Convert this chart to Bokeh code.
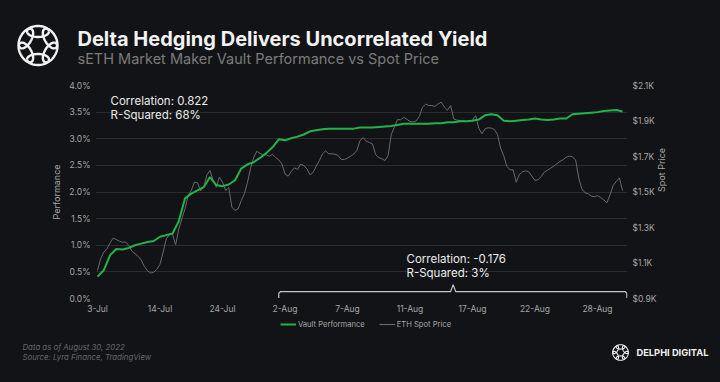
import math
import numpy as np
from bokeh.plotting import figure
from bokeh.layouts import column
from bokeh.core.properties import value
from bokeh.models import (Range1d, LinearAxis, FixedTicker, PrintfTickFormatter,
                          Label)
from bokeh.embed import file_html
from bokeh.resources import INLINE

# ---------------- data ----------------
x_tick_labels = ["3-Jul", "14-Jul", "24-Jul", "2-Aug", "7-Aug",
                 "11-Aug", "17-Aug", "22-Aug", "28-Aug"]
vault_points_per_label = 10
eth_points_per_label = 20

vault_perf_pct = [0.41, 0.53, 0.81, 0.93, 0.92, 0.95, 1.00, 1.03, 1.06, 1.08,
                  1.16, 1.19, 1.22, 1.45, 1.88, 1.97, 2.03, 2.09, 2.28, 2.13,
                  2.11, 2.14, 2.22, 2.44, 2.52, 2.56, 2.64, 2.73, 2.84, 2.99,
                  2.97, 3.01, 3.04, 3.08, 3.14, 3.16, 3.18, 3.19, 3.19, 3.19,
                  3.19, 3.19, 3.21, 3.21, 3.21, 3.22, 3.23, 3.24, 3.26, 3.28,
                  3.28, 3.28, 3.28, 3.28, 3.29, 3.29, 3.31, 3.31, 3.33, 3.33,
                  3.34, 3.36, 3.44, 3.46, 3.44, 3.34, 3.33, 3.34, 3.35, 3.36,
                  3.38, 3.36, 3.35, 3.36, 3.38, 3.38, 3.46, 3.47, 3.48, 3.49,
                  3.50, 3.52, 3.53, 3.54, 3.51]

eth_spot_price = [1058, 1123, 1161, 1180, 1212, 1240, 1232, 1223, 1217, 1219,
                  1198, 1167, 1153, 1138, 1116, 1080, 1056, 1043, 1048, 1065,
                  1093, 1161, 1236, 1259, 1262, 1202, 1291, 1351, 1405, 1480,
                  1508, 1555, 1552, 1507, 1527, 1597, 1621, 1565, 1527, 1584,
                  1555, 1508, 1525, 1415, 1396, 1405, 1452, 1490, 1555, 1634,
                  1696, 1730, 1717, 1709, 1709, 1702, 1713, 1694, 1681, 1659,
                  1602, 1589, 1615, 1636, 1627, 1657, 1649, 1630, 1597, 1610,
                  1646, 1677, 1715, 1732, 1715, 1715, 1713, 1706, 1683, 1683,
                  1691, 1702, 1713, 1734, 1790, 1807, 1786, 1779, 1771, 1711,
                  1694, 1687, 1677, 1706, 1824, 1865, 1908, 1907, 1920, 1910,
                  1897, 1895, 1901, 1927, 1978, 1995, 1987, 1987, 1982, 1997,
                  2006, 1978, 1961, 1987, 1912, 1905, 1903, 1903, 1897, 1897,
                  1907, 1931, 1860, 1828, 1856, 1862, 1860, 1852, 1824, 1747,
                  1704, 1644, 1625, 1625, 1555, 1599, 1614, 1619, 1614, 1589,
                  1565, 1570, 1587, 1612, 1623, 1634, 1646, 1659, 1672, 1683,
                  1696, 1702, 1698, 1681, 1578, 1518, 1495, 1490, 1477, 1473,
                  1480, 1469, 1456, 1439, 1484, 1537, 1559, 1580, 1508]

perf_ticks = [0.0, 0.5, 1.0, 1.5, 2.0, 2.5, 3.0, 3.5, 4.0]
price_ticks = [900, 1100, 1300, 1500, 1700, 1900, 2100]
price_tick_labels = ["$0.9K", "$1.1K", "$1.3K", "$1.5K", "$1.7K", "$1.9K", "$2.1K"]

# x measured in "tick label" units (one unit between neighbouring date labels)
vault_x = [i / vault_points_per_label for i in range(len(vault_perf_pct))]
eth_x = [i / eth_points_per_label for i in range(len(eth_spot_price))]

# ---------------- styling ----------------
BG = "#121316"
GREEN = "#22b34c"
GREY_LINE = "#6a6a6a"
TICK_COL = "#a6a6a6"
FONT = "Inter"
W = 720
HEAD_H, MAIN_H = 72, 246          # header 0-72, main 72-318, footer 318-382
FOOT_H = 382 - HEAD_H - MAIN_H
FL, FB = 95, 298                  # frame left / bottom, page pixels


def blank(h, y0):
    f = figure(width=W, height=h, output_backend="svg", toolbar_location=None,
               x_range=Range1d(0, W), y_range=Range1d(y0 + h, y0),
               x_axis_type=None, y_axis_type=None, min_border=0,
               background_fill_color=BG, border_fill_color=BG,
               outline_line_color=None)
    f.grid.visible = False
    f.frame_align = False
    return f


def put(f, text, px, py, size, color, style="normal", align="left"):
    f.text(x=[px], y=[py], text=[text], text_font=value(FONT),
           text_font_size=f"{size}px", text_color=color,
           text_font_style=style, text_baseline="middle", text_align=align)


def logo(f, cx, cy, s, lw):
    t = np.linspace(0, 2 * np.pi, 60)
    xs, ys = [], []
    n = 6
    for k in range(n):
        th = k * 2 * np.pi / n + np.pi / 6
        ex, ey = 11 * np.cos(t), 5.5 * np.sin(t)
        rot = th + np.pi / 2
        xs.append(list(cx + s * (14 * np.cos(th) + ex * np.cos(rot) - ey * np.sin(rot))))
        ys.append(list(cy + s * (14 * np.sin(th) + ex * np.sin(rot) + ey * np.cos(rot))))
    f.multi_line(xs, ys, line_color="#f2f2f2", line_width=lw)


# ---------------- header ----------------
head = blank(HEAD_H, 0)
logo(head, 37.5, 45, 1.0, 2.4)
put(head, "Delta Hedging Delivers Uncorrelated Yield", 77, 38, 20, "#f2f2f2", "bold")
put(head, "sETH Market Maker Vault Performance vs Spot Price", 77, 58, 14.5, "#7b7b7b")

# ---------------- main chart ----------------
p = figure(width=W, height=MAIN_H, output_backend="svg", toolbar_location=None,
           x_range=Range1d(-0.032, 8.48), y_range=Range1d(0, 4),
           min_border_left=FL, min_border_right=W - 627,
           min_border_top=85 - HEAD_H, min_border_bottom=HEAD_H + MAIN_H - FB,
           background_fill_color=BG, border_fill_color=BG,
           outline_line_color=None)
p.frame_align = False
p.extra_y_ranges = {"price": Range1d(price_ticks[0], price_ticks[-1])}


def style_axis(ax):
    ax.axis_line_color = None
    ax.major_tick_line_color = None
    ax.minor_tick_line_color = None
    ax.major_tick_out = 0
    ax.major_tick_in = 0
    ax.minor_tick_out = 0
    ax.minor_tick_in = 0
    ax.major_label_text_color = TICK_COL
    ax.major_label_text_font = FONT
    ax.major_label_text_font_size = "8.5px"
    ax.major_label_standoff = 5
    ax.axis_label_text_color = TICK_COL
    ax.axis_label_text_font = FONT
    ax.axis_label_text_font_size = "9px"
    ax.axis_label_text_font_style = "normal"


yl = p.yaxis[0]
yl.ticker = FixedTicker(ticks=perf_ticks)
yl.formatter = PrintfTickFormatter(format="%.1f%%")
yl.axis_label = "Performance"
style_axis(yl)
yl.axis_label_standoff = 4

yr = LinearAxis(y_range_name="price", ticker=FixedTicker(ticks=price_ticks),
                major_label_overrides=dict(zip(price_ticks, price_tick_labels)),
                axis_label="Spot Price")
style_axis(yr)
yr.axis_label_standoff = 2
try:
    yr.axis_label_orientation = math.pi / 2
except Exception:
    pass
p.add_layout(yr, "right")

xa = p.xaxis[0]
xticks = list(range(len(x_tick_labels)))
xa.ticker = FixedTicker(ticks=xticks)
xa.major_label_overrides = dict(zip(xticks, x_tick_labels))
style_axis(xa)
xa.major_label_standoff = 5

p.xgrid.visible = False
p.ygrid.ticker = FixedTicker(ticks=perf_ticks)
p.ygrid.grid_line_color = "#2a2b2e"
p.ygrid.grid_line_width = 1

eth_r = p.line(eth_x, eth_spot_price, y_range_name="price", line_color=GREY_LINE,
               line_width=1.0)
vault_r = p.line(vault_x, vault_perf_pct, line_color=GREEN, line_width=2)

# bracket marking the low-correlation period
b0, b1, bm = 2.90, 8.47, 5.69
bl, bb, bt = 0.13, 0.01, 0.26
p.line([b0, b0, b0 + 0.03, bm - 0.04, bm, bm + 0.04, b1 - 0.03, b1, b1],
       [bb, bl - 0.03, bl, bl, bt, bl, bl, bl - 0.03, bb],
       line_color="#c4c4c4", line_width=1.2)


def note(text, px, py):
    p.add_layout(Label(x=px - FL, y=FB - py, x_units="screen", y_units="screen",
                       text=text, text_font=FONT, text_font_size="11.5px",
                       text_color="#ececec", text_baseline="middle"))


note("Correlation: 0.822", 110, 100)
note("R-Squared: 68%", 110, 114)
note("Correlation: -0.176", 406, 258)
note("R-Squared: 3%", 406, 272)

# ---------------- footer ----------------
foot = blank(FOOT_H, HEAD_H + MAIN_H)
# legend keys (drawn off the visible area, only the legend shows them)
foot.line([-30, -20], [0, 0], line_color=GREEN, line_width=2,
          legend_label="Vault Performance")
foot.line([-30, -20], [0, 0], line_color=GREY_LINE, line_width=1.1,
          legend_label="ETH Spot Price")
lg = foot.legend[0]
lg.location = (280, 382 - 329)
lg.orientation = "horizontal"
lg.background_fill_alpha = 0
lg.border_line_color = None
lg.label_text_color = TICK_COL
lg.label_text_font = FONT
lg.label_text_font_size = "7.6px"
lg.glyph_width = 16
lg.glyph_height = 10
lg.label_height = 10
lg.padding = 0
lg.margin = 0
lg.spacing = 14
lg.label_standoff = 2

put(foot, "Data as of August 30, 2022", 22, 346, 7.8, "#676767", "italic")
put(foot, "Source: Lyra Finance, TradingView", 22, 356, 7.8, "#676767", "italic")
put(foot, "DELPHI DIGITAL", 636, 352, 9.3, "#f0f0f0", "bold")
logo(foot, 620, 352, 0.4, 1.1)

layout = column(head, p, foot, spacing=0)
html = file_html(layout, INLINE, title="Delta Hedging Delivers Uncorrelated Yield")
html = html.replace("</head>",
                    "<style>html,body{background:#121316;margin:0;}</style></head>")
open("out.html", "w").write(html)
